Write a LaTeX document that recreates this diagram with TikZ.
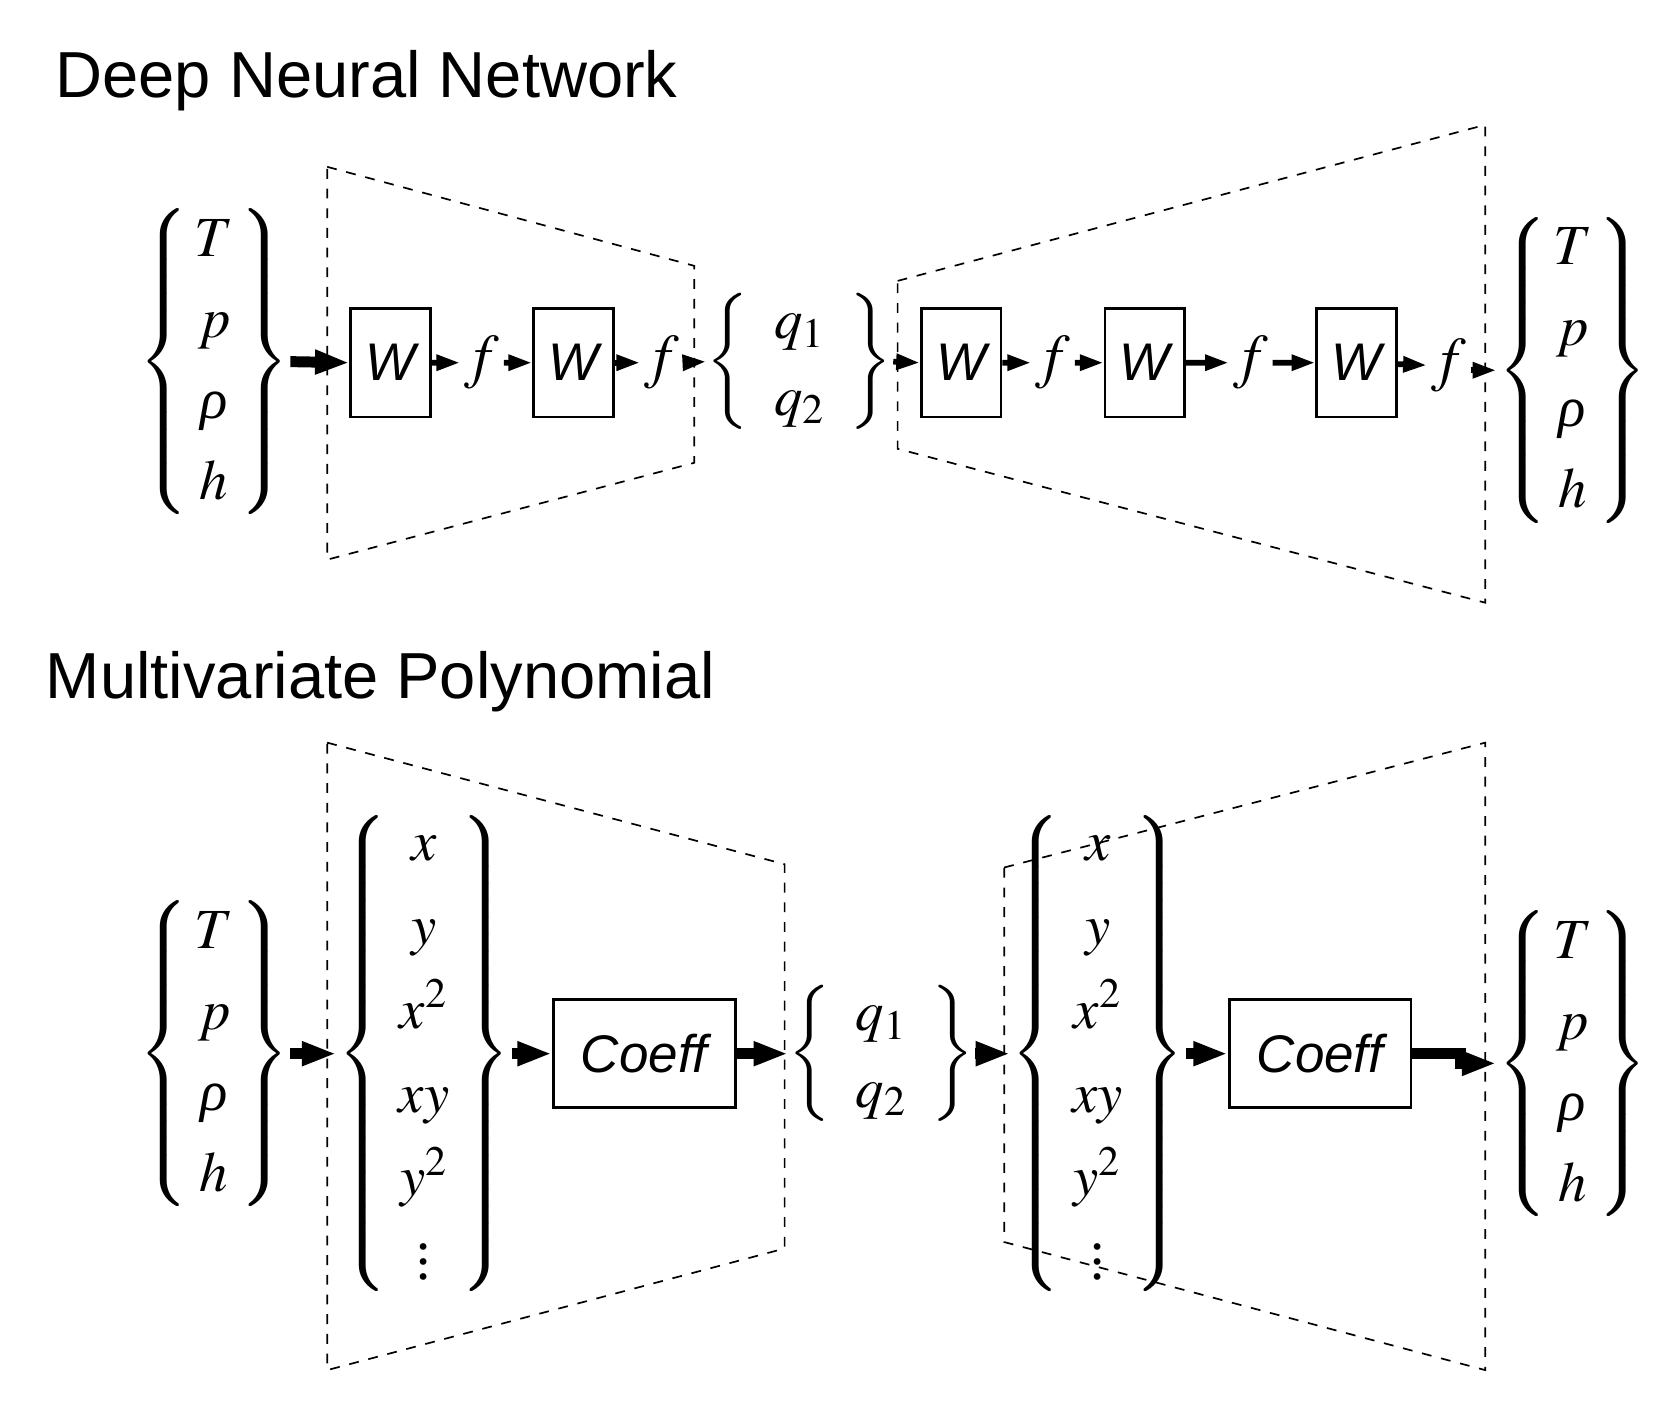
\documentclass[tikz,border=0pt]{standalone}
\usepackage[no-math]{fontspec}
\usepackage{mathptmx}
\setmainfont{Liberation Serif}
\newfontfamily\labelfont{Liberation Sans}
\usetikzlibrary{positioning, arrows.meta, calc}
% a column of variables between curly braces
\newcommand{\vecgroup}[3][5pt]{$\delimiterfactor=850\delimitershortfall=7pt\setlength{\arraycolsep}{#1}\renewcommand{\arraystretch}{#2}\left\{\begin{array}{c}#3\end{array}\right\}$}
\newcommand{\rhoit}{\textit{ρ}}
\tikzset{
title/.style={anchor=base west, inner sep=0pt, font=\labelfont\fontsize{17.2}{20}\selectfont}, % section headings
vec/.style={inner sep=0pt, font=\fontsize{15}{18}\selectfont}, % brace groups
wbox/.style={draw, line width=0.75pt, minimum width=0.74cm, minimum height=1.01cm, inner sep=0pt, font=\labelfont\itshape\fontsize{14}{16}\selectfont}, % weight boxes
cbox/.style={wbox, minimum width=1.69cm, minimum height=1.0cm}, % coefficient boxes
act/.style={inner sep=1pt, font=\fontsize{16}{18}\selectfont}, % activation f
arr/.style={-{Triangle[length=0.22cm, width=0.14cm]}, line width=1.5pt},
bigarr/.style={-{Triangle[length=0.32cm, width=0.21cm]}, line width=2.9pt},
trap/.style={dash pattern=on 2.6pt off 2.6pt, line width=0.45pt},
}

\begin{document}
\begin{tikzpicture}
  \useasboundingbox (0,0) rectangle (15.6,-13.08);

  \node[title] (t1) at (0.51,-0.91) {Deep Neural Network};
  \node[title] (t2) at (0.42,-6.49) {Multivariate Polynomial};

  % deep neural network
  \draw[trap] (3.04,-1.55) -- (6.45,-2.47) -- (6.45,-4.30) -- (3.04,-5.20) -- cycle;
  \draw[trap] (8.34,-2.61) -- (13.80,-1.16) -- (13.80,-5.60) -- (8.34,-4.17) -- cycle;

  \node[vec] (in1) at (1.99,-3.36) {\vecgroup[1.5pt]{1.19}{T\\ p\\ \rhoit\\ h}};
  \node[wbox] (W1) at (3.63,-3.37) {W};
  \node[wbox, right=0.93cm of W1] (W2) {W};
  \node[act] (f1) at ($(W1)!0.5!(W2)$) {$f$};
  \node[act] (f2) at (6.15,-3.37) {$f$};
  \node[vec] (q1) at (7.43,-3.36) {\vecgroup[6.5pt]{1.12}{q_1\\ q_2}};
  \node[wbox] (W3) at (8.93,-3.37) {W};
  \node[wbox, right=0.94cm of W3] (W4) {W};
  \node[wbox, right=1.20cm of W4] (W5) {W};
  \node[act] (f3) at ($(W3)!0.5!(W4)$) {$f$};
  \node[act] (f4) at ($(W4)!0.5!(W5)$) {$f$};
  \node[act] (f5) at (13.46,-3.40) {$f$};
  \node[vec] (out1) at (14.61,-3.44) {\vecgroup[1.5pt]{1.19}{T\\ p\\ \rhoit\\ h}};

  \draw[bigarr] (in1.east) -- (W1.west);
  \draw[arr] (W1) -- (f1);
  \draw[arr] (f1) -- (W2);
  \draw[arr] (W2) -- (f2);
  \draw[arr] (f2.east) -- (q1.west);
  \draw[arr] (q1.east) -- (W3.west);
  \draw[arr] (W3) -- (f3);
  \draw[arr] (f3) -- (W4);
  \draw[arr] (W4) -- (f4);
  \draw[arr] (f4) -- (W5);
  \draw[arr] (W5) -- (f5);
  \draw[arr] (f5.east |- out1.west) -- (out1.west);

  % multivariate polynomial
  \draw[trap] (3.04,-6.90) -- (7.29,-8.03) -- (7.29,-11.60) -- (3.04,-12.73) -- cycle;
  \draw[trap] (9.33,-8.06) -- (13.80,-6.90) -- (13.80,-12.73) -- (9.33,-11.54) -- cycle;

  \node[vec] (in2) at (1.99,-9.79) {\vecgroup[1.5pt]{1.19}{T\\ p\\ \rhoit\\ h}};
  \node[vec] (P1) at (3.94,-9.79) {\vecgroup[3pt]{1.23}{x\\ y\\ x^2\\ xy\\ y^2\\ \vdots}};
  \node[cbox] (C1) at (5.985,-9.79) {Coeff};
  \node[vec] (q2) at (8.19,-9.79) {\vecgroup[6.5pt]{1.12}{q_1\\ q_2}};
  \node[vec] (P2) at (10.20,-9.79) {\vecgroup[3pt]{1.23}{x\\ y\\ x^2\\ xy\\ y^2\\ \vdots}};
  \node[cbox] (C2) at (12.265,-9.79) {Coeff};
  \node[vec] (out2) at (14.61,-9.88) {\vecgroup[1.5pt]{1.19}{T\\ p\\ \rhoit\\ h}};

  \draw[bigarr] (in2.east) -- (P1.west);
  \draw[bigarr] (P1.east) -- (C1.west);
  \draw[bigarr] (C1.east) -- (q2.west);
  \draw[bigarr] (q2.east) -- (P2.west);
  \draw[bigarr] (P2.east) -- (C2.west);
  \draw[bigarr] (C2.east) -- ++(0.45,0) |- (out2.west);
\end{tikzpicture}
\end{document}
